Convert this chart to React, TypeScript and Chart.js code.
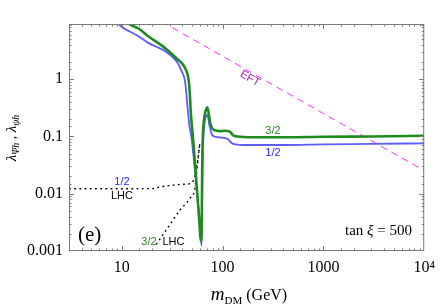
import React, { useEffect, useRef } from 'react';
import { Chart, registerables } from 'chart.js';
Chart.register(...registerables);

// ---- data ----
const greenMass = [10.5, 11.8, 14.8, 18.5, 26, 36, 40, 43, 45, 46.5, 47.5, 48.5, 50.8, 56.1, 58.7, 61, 62.2, 62.8, 63.6, 65.5, 68, 70.7, 75.6, 82, 95, 105, 113, 120, 128, 140, 200, 438, 1000, 3000, 10000];
const greenLambda = [11, 9.2, 7.6, 5.56, 3.67, 2.2, 1.85, 1.5, 1.2, 0.85, 0.5, 0.25, 0.1, 0.01, 0.0035, 0.0015, 0.0035, 0.026, 0.087, 0.194, 0.28, 0.324, 0.17, 0.13, 0.124, 0.126, 0.125, 0.118, 0.104, 0.1, 0.097, 0.097, 0.099, 0.1, 0.103];

const blueMass = [8.8, 9.3, 14.8, 18.5, 26, 34, 37, 39.4, 41.2, 42.5, 43.6, 44.8, 47, 49, 56.1, 59, 62, 62.6, 63.2, 64.3, 66, 68.5, 70.7, 74, 78, 83, 100, 113, 120, 128, 160, 438, 1000, 3000, 10000];
const blueLambda = [10.5, 9.2, 5.56, 4.26, 3.19, 2.17, 1.75, 1.36, 1.15, 0.9, 0.6, 0.35, 0.15, 0.1, 0.01, 0.0035, 0.00123, 0.005, 0.026, 0.087, 0.165, 0.225, 0.238, 0.16, 0.11, 0.1, 0.095, 0.09, 0.08, 0.074, 0.071, 0.071, 0.073, 0.074, 0.076];

const eftMass = [25, 100, 1000, 10000];
const eftLambda = [10.1, 2.52, 0.252, 0.0252];

const lhcHalfMass = [3, 20, 24.8, 31.2, 40, 48.9, 53.2, 55.5, 57.4, 59.6];
const lhcHalfLambda = [0.0122, 0.0123, 0.0133, 0.014, 0.0146, 0.0152, 0.02, 0.03, 0.044, 0.077];

const lhcThreeHalfMass = [22, 29.1, 37.9, 47.5, 53.2, 55.5, 57.4, 59.6];
const lhcThreeHalfLambda = [0.0013, 0.00265, 0.0052, 0.0083, 0.0124, 0.025, 0.044, 0.077];

const xTickValues = [10, 100, 1000, 10000];
const xTickText = ['10', '100', '1000', '10\u2074'];
const yTickValues = [0.001, 0.01, 0.1, 1];
const yTickText = ['0.001', '0.01', '0.1', '1'];

const pts = (xs: number[], ys: number[]) => xs.map((x, i) => ({ x, y: ys[i] }));
const findIdx = (vals: number[], v: number) =>
  vals.findIndex((t) => Math.abs(v - t) / t < 1e-6);

const SERIF = '"Liberation Serif", "Times New Roman", serif';
const SANS = '"Liberation Sans", Arial, sans-serif';

type Part = { t: string; font: string; dy?: number; color?: string };
function drawParts(ctx: CanvasRenderingContext2D, parts: Part[], x: number, y: number, align: 'center' | 'left') {
  ctx.textAlign = 'left';
  ctx.textBaseline = 'alphabetic';
  let total = 0;
  const widths = parts.map((p) => {
    ctx.font = p.font;
    const w = ctx.measureText(p.t).width;
    total += w;
    return w;
  });
  let cx = align === 'center' ? x - total / 2 : x;
  parts.forEach((p, i) => {
    ctx.font = p.font;
    ctx.fillStyle = p.color || '#000';
    ctx.fillText(p.t, cx, y + (p.dy || 0));
    cx += widths[i];
  });
}

const overlay = {
  id: 'overlay',
  afterDraw(chart: any) {
    const ctx: CanvasRenderingContext2D = chart.ctx;
    const { left, right, top, bottom } = chart.chartArea;
    const xs = chart.scales.x;
    const ys = chart.scales.y;
    ctx.save();
    // frame
    ctx.strokeStyle = '#7a7a7a';
    ctx.lineWidth = 1;
    ctx.strokeRect(left + 0.5, top + 0.5, right - left - 1, bottom - top - 1);
    // x ticks
    ctx.beginPath();
    xs.ticks.forEach((t: any) => {
      const px = Math.round(xs.getPixelForValue(t.value)) + 0.5;
      if (px < left + 1 || px > right - 1) return;
      const len = findIdx(xTickValues, t.value) >= 0 ? 5 : 2.5;
      ctx.moveTo(px, bottom);
      ctx.lineTo(px, bottom - len);
      ctx.moveTo(px, top);
      ctx.lineTo(px, top + len);
    });
    ys.ticks.forEach((t: any) => {
      const py = Math.round(ys.getPixelForValue(t.value)) + 0.5;
      if (py < top + 1 || py > bottom - 1) return;
      const len = findIdx(yTickValues, t.value) >= 0 ? 5 : 2.5;
      ctx.moveTo(left, py);
      ctx.lineTo(left + len, py);
      ctx.moveTo(right, py);
      ctx.lineTo(right - len, py);
    });
    ctx.stroke();

    // annotations
    ctx.textAlign = 'center';
    ctx.textBaseline = 'middle';
    ctx.font = `11px ${SANS}`;
    ctx.fillStyle = '#2a2aff';
    ctx.fillText('1/2', 122, 182);
    ctx.fillStyle = '#000';
    ctx.fillText('LHC', 122, 195.5);
    ctx.fillStyle = '#2a8a2a';
    ctx.fillText('3/2', 149, 242);
    ctx.fillStyle = '#000';
    ctx.fillText('LHC', 173.5, 242);
    ctx.fillStyle = '#2a8a2a';
    ctx.fillText('3/2', 273, 131);
    ctx.fillStyle = '#2a2aff';
    ctx.fillText('1/2', 273, 152.5);

    // EFT label
    ctx.save();
    ctx.translate(250, 78.5);
    ctx.rotate((29 * Math.PI) / 180);
    ctx.fillStyle = '#a424a4';
    ctx.font = `11px ${SANS}`;
    ctx.fillText('EFT', 0, 0);
    ctx.restore();

    // (e)
    ctx.fillStyle = '#000';
    ctx.textAlign = 'left';
    ctx.textBaseline = 'alphabetic';
    ctx.font = `21px ${SERIF}`;
    ctx.fillText('(e)', 78, 240.5);

    // tan xi = 500
    drawParts(ctx, [
      { t: 'tan ', font: `15px ${SERIF}` },
      { t: '\u03BE', font: `italic 15px ${SERIF}` },
      { t: ' = 500', font: `15px ${SERIF}` },
    ], 345, 235, 'left');

    // x title
    drawParts(ctx, [
      { t: 'm', font: `italic 19px ${SERIF}` },
      { t: 'DM', font: `11px ${SERIF}`, dy: 4 },
      { t: ' (GeV)', font: `16px ${SERIF}` },
    ], 249, 300, 'center');

    // y title (rotated)
    ctx.save();
    ctx.translate(16, 138);
    ctx.rotate(-Math.PI / 2);
    drawParts(ctx, [
      { t: '\u03BB', font: `italic 15px ${SERIF}` },
      { t: '\u03A8h', font: `italic 10px ${SERIF}`, dy: 3 },
      { t: ' , ', font: `14px ${SERIF}` },
      { t: '\u03BB', font: `italic 15px ${SERIF}` },
      { t: '\u03C8h', font: `italic 10px ${SERIF}`, dy: 3 },
    ], 0, 0, 'center');
    ctx.restore();

    ctx.restore();
  },
};

export default function App() {
  const ref = useRef<HTMLCanvasElement | null>(null);
  useEffect(() => {
    if (!ref.current) return;
    const chart = new Chart(ref.current, {
      type: 'line',
      data: {
        datasets: [
          {
            label: '3/2',
            data: pts(greenMass, greenLambda),
            borderColor: '#1f8a1f',
            borderWidth: 2.6,
            pointRadius: 0,
            cubicInterpolationMode: 'monotone',
          },
          {
            label: '1/2',
            data: pts(blueMass, blueLambda),
            borderColor: '#5c5cff',
            borderWidth: 1.8,
            pointRadius: 0,
            cubicInterpolationMode: 'monotone',
          },
          {
            label: 'EFT',
            data: pts(eftMass, eftLambda),
            borderColor: '#ff30ff',
            borderWidth: 1,
            borderDash: [7, 5],
            pointRadius: 0,
            tension: 0,
          },
          {
            label: 'LHC 1/2',
            data: pts(lhcHalfMass, lhcHalfLambda),
            borderColor: '#000',
            borderWidth: 1.4,
            borderDash: [1.8, 3.4],
            pointRadius: 0,
            cubicInterpolationMode: 'monotone',
          },
          {
            label: 'LHC 3/2',
            data: pts(lhcThreeHalfMass, lhcThreeHalfLambda),
            borderColor: '#000',
            borderWidth: 1.4,
            borderDash: [1.8, 3.4],
            pointRadius: 0,
            cubicInterpolationMode: 'monotone',
          },
        ],
      },
      options: {
        animation: false,
        responsive: false,
        devicePixelRatio: 1,
        layout: { padding: { top: 24, right: 13, left: 0, bottom: 0 } },
        plugins: { legend: { display: false }, tooltip: { enabled: false } },
        scales: {
          x: {
            type: 'logarithmic',
            min: 3,
            max: 10000,
            grid: { display: false, drawTicks: false },
            border: { display: false },
            afterFit: (s: any) => { s.height = 56; },
            ticks: {
              autoSkip: false,
              maxRotation: 0,
              padding: 7,
              color: '#000',
              font: { family: SERIF, size: 16 },
              callback: (v: any) => {
                const i = findIdx(xTickValues, Number(v));
                return i >= 0 ? xTickText[i] : '';
              },
            },
          },
          y: {
            type: 'logarithmic',
            min: 0.001,
            max: 9.2,
            grid: { display: false, drawTicks: false },
            border: { display: false },
            afterFit: (s: any) => { s.width = 69; },
            ticks: {
              autoSkip: false,
              padding: 6,
              color: '#000',
              font: { family: SERIF, size: 16 },
              callback: (v: any) => {
                const i = findIdx(yTickValues, Number(v));
                return i >= 0 ? yTickText[i] : '';
              },
            },
          },
        },
      },
      plugins: [overlay],
    } as any);
    return () => chart.destroy();
  }, []);
  return (
    <div style={{ position: 'absolute', left: 0, top: 0, width: 442, height: 307, background: '#fff' }}>
      <canvas ref={ref} width={442} height={307} />
    </div>
  );
}
